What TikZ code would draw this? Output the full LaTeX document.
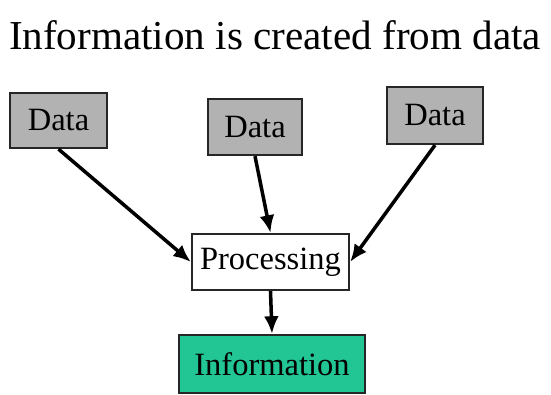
\documentclass[tikz,border=0pt]{standalone}
\usepackage{fontspec}
\setmainfont{Liberation Serif}
\usetikzlibrary{arrows.meta}
\definecolor{datagray}{RGB}{178,178,178}
\definecolor{infogreen}{RGB}{34,198,148}
\tikzset{
  box/.style={draw=black!85, line width=1.3pt, inner sep=0pt,
    font=\fontsize{18.5}{20}\selectfont},
  databox/.style={box, fill=datagray},
  flow/.style={line width=2pt, -{Latex[length=10pt,width=8.5pt]}}
}
\begin{document}
\begin{tikzpicture}[x=0.02cm, y=0.02cm]
  \useasboundingbox (0,0) rectangle (551,395);
  \node (title) at (275,360) {\fontsize{23.4}{26}\selectfont Information is created from data};
  \draw
    (58.5,274.5) node[databox, minimum width=1.94cm, minimum height=1.1cm] (d1){Data}
    (255,268) node[databox, minimum width=1.88cm, minimum height=1.12cm] (d2){Data}
    (435,279.5) node[databox, minimum width=1.92cm, minimum height=1.14cm] (d3){Data}
    (270.5,133) node[box, fill=white, minimum width=3.14cm, minimum height=1.12cm] (proc){Processing}
    (272,31) node[box, fill=infogreen, minimum width=3.72cm, minimum height=1.16cm] (info){Information};
  \begin{scope}[flow]
    \draw (d1.south) -- (proc.west);
    \draw (d2.south) -- (proc.north);
    \draw (d3.south) -- (proc.east);
    \draw (proc.south) -- (info.north);
  \end{scope}
\end{tikzpicture}
\end{document}
